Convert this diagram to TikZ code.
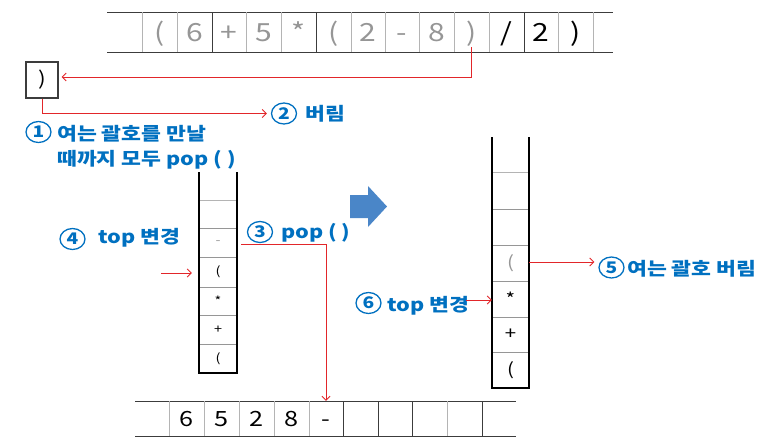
\documentclass[tikz,border=0pt]{standalone}
\usepackage{fontspec}
\setmainfont{Noto Sans CJK KR}[FakeStretch=1.2]
\usetikzlibrary{arrows.meta,shapes.geometric}
\definecolor{lblue}{RGB}{0,112,192}
\definecolor{ared}{RGB}{226,38,42}
\definecolor{cgray}{RGB}{150,150,150}
\definecolor{lgray}{RGB}{180,180,180}
\definecolor{dgray}{RGB}{60,60,60}
\definecolor{barrow}{RGB}{74,134,200}
\tikzset{
  hline/.style={draw=dgray, line width=0.9pt},
  vdiv/.style={line width=0.9pt},
  tcell/.style={minimum width=34pt, minimum height=30pt, inner sep=0pt, text height=18pt, text depth=0pt, font=\fontsize{25}{25}\selectfont},
  bcell/.style={minimum width=34pt, minimum height=35pt, inner sep=0pt, text height=15pt, text depth=0pt, font=\fontsize{21}{21}\selectfont},
  lscell/.style={minimum width=38pt, minimum height=29pt, inner sep=0pt, font=\fontsize{12}{12}\selectfont},
  rscell/.style={minimum width=37pt, minimum height=36pt, inner sep=0pt, font=\fontsize{17}{17}\selectfont},
  wall/.style={draw=black, line width=2.6pt},
  sdiv/.style={draw=cgray, line width=0.9pt},
  rarrow/.style={draw=ared, line width=0.9pt, -{Straight Barb[length=4pt,width=8pt]}},
  lbl/.style={text=lblue, inner sep=0pt, anchor=base west, font=\fontsize{18}{18}\bfseries\selectfont},
  cnum/.style={ellipse, draw=lblue, line width=1.3pt, minimum width=25pt, minimum height=21pt, inner sep=0pt,
               text=lblue, font=\fontsize{16}{16}\bfseries\selectfont},
}
\begin{document}
\begin{tikzpicture}[x=1pt,y=-1pt]
\useasboundingbox (0,0) rectangle (779,445);
% ---------------- top array ----------------
\draw[hline] (107,12) -- (613,12) (107,52) -- (613,52);
\foreach \x in {142,177,246,281,351,385,419,454,489,558,593}
  \draw[vdiv, lgray] (\x,12) -- (\x,52);
\foreach \x in {212,316,524}
  \draw[vdiv, dgray] (\x,12) -- (\x,52);
\node[tcell, text=cgray] (t1) at (159.5,32) {(};
\node[tcell, text=cgray] (t2) at (194.5,32) {6};
\node[tcell, text=cgray] (t3) at (229,32) {+};
\node[tcell, text=cgray] (t4) at (263.5,32) {5};
\node[tcell, text=cgray] (t5) at (298.5,32) {*};
\node[tcell, text=cgray] (t6) at (333.5,32) {(};
\node[tcell, text=cgray] (t7) at (368,32) {2};
\node[tcell, text=cgray] (t8) at (402,32) {-};
\node[tcell, text=cgray] (t9) at (436.5,32) {8};
\node[tcell, text=cgray] (t10) at (471.5,32) {)};
\node[tcell] (t11) at (506.5,32) {/};
\node[tcell] (t12) at (541,32) {2};
\node[tcell] (t13) at (575.5,32) {)};
% ---------------- box ) ----------------
\node[draw=dgray, line width=1.2pt, minimum width=32pt, minimum height=36pt, inner sep=0pt,
      font=\fontsize{19}{19}\selectfont] (rbox) at (42,80) {)};
\draw[rarrow] (t10.south) |- ([xshift=3pt]rbox.east |- 0,77);
% labels 1, 2
\node[cnum] (c2) at (284,113.5) {2};
\node[lbl] (l2) at (305,120) {버림};
\draw[rarrow] (rbox.south) |- ([xshift=-4pt]c2.west);
\node[cnum] (c1) at (38.5,132) {1};
\node[lbl] (l1a) at (57,140) {여는 괄호를 만날};
\node[lbl] (l1b) at (57,165) {때까지 모두 pop ( )};
% ---------------- left stack ----------------
\foreach \y in {228,257,287,315,344}
  \draw[sdiv] (199,\y) -- (237,\y);
\draw[sdiv, lgray] (199,200) -- (237,200);
\draw[wall] (199,172) -- (199,373) -- (237,373) -- (237,172);
\node[lscell, text=cgray] (ls3) at (218,242.5) {-};
\node[lscell] (ls4) at (218,272) {(};
\node[lscell] (ls5) at (218,301) {*};
\node[lscell] (ls6) at (218,329.5) {+};
\node[lscell] (ls7) at (218,358.5) {(};
\node[cnum] (c4) at (72.5,239) {4};
\node[lbl] (l4) at (98,243) {top 변경};
\coordinate (a4) at (161,273);
\draw[rarrow, shorten >=7pt] (a4) -- (a4 -| ls4.west);
\node[cnum] (c3) at (260,232) {3};
\node[lbl] (l3) at (281,238) {pop ( )};
% ---------------- bottom array ----------------
\draw[hline] (135,401) -- (516,401) (135,436) -- (516,436);
\foreach \x in {169,204,239,274,309,447}
  \draw[vdiv, lgray] (\x,401) -- (\x,436);
\foreach \x in {343,378,412,482}
  \draw[vdiv, dgray] (\x,401) -- (\x,436);
\node[bcell] (b1) at (186.5,418.5) {6};
\node[bcell] (b2) at (221.5,418.5) {5};
\node[bcell] (b3) at (256.5,418.5) {2};
\node[bcell] (b4) at (291.5,418.5) {8};
\node[bcell] (b5) at (326,418.5) {-};
\draw[rarrow] ([xshift=4pt]ls3.east |- 0,244) -| (b5.north);
% ---------------- blue arrow ----------------
\fill[barrow] (350,195) -- (368,195) -- (368,186) -- (387,206.5) -- (368,227) -- (368,218) -- (350,218) -- cycle;
% ---------------- right stack ----------------
\foreach \y in {209,245,281,317,352}
  \draw[sdiv] (492,\y) -- (529,\y);
\draw[sdiv, lgray] (492,172) -- (529,172);
\draw[wall] (492,137) -- (492,388) -- (529,388) -- (529,137);
\node[rscell, text=cgray] (rs4) at (510.5,263) {(};
\node[rscell] (rs5) at (510.5,299) {*};
\node[rscell] (rs6) at (510.5,334.5) {+};
\node[rscell] (rs7) at (510.5,370) {(};
\node[cnum] (c5) at (611.5,267.5) {5};
\node[lbl] (l5) at (627,275) {여는 괄호 버림};
\draw[rarrow] (rs4.east |- 0,262) -- ([xshift=-4pt]c5.west |- 0,262);
\node[cnum] (c6) at (368.5,303) {6};
\node[lbl] (l6) at (387,311) {top 변경};
\draw[rarrow] ([xshift=-3pt]l6.east |- 0,300) -- (rs5.west |- 0,300);
\end{tikzpicture}
\end{document}
